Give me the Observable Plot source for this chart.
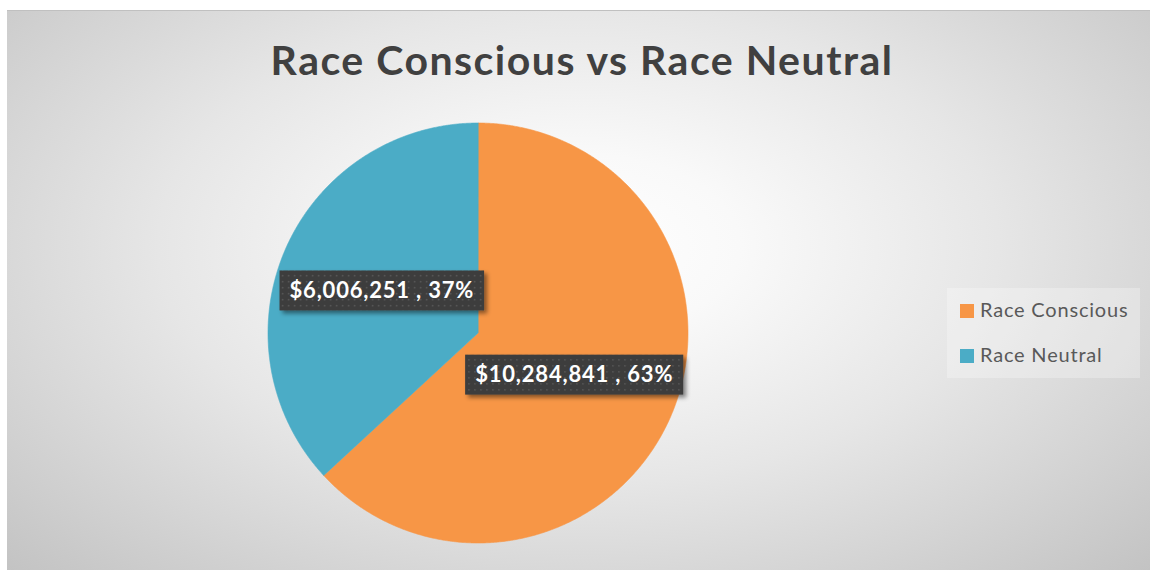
<!DOCTYPE html>
<html>
<head>
<meta charset="utf-8">
<script src="https://cdn.jsdelivr.net/npm/d3@7"></script>
<script src="https://cdn.jsdelivr.net/npm/@observablehq/plot@0.6"></script>
<style>
  html, body { margin: 0; padding: 0; background: #ffffff; width: 1150px; height: 570px; overflow: hidden; }
  #bg { position: absolute; left: 7px; top: 10px; width: 1143px; height: 560px;
        border-top: 1px solid #c0c0c0; box-sizing: border-box;
        background: radial-gradient(ellipse farthest-corner at 50% 42%, #ffffff 0%, #f9f9f9 20%, #e6e6e6 52%, #c3c3c3 100%); }
  #title { position: absolute; left: 0; top: 39px; width: 1164px; text-align: center;
           font-family: Lato, sans-serif; font-weight: 700; font-size: 41px; line-height: 41px;
           letter-spacing: 1.5px; color: #404040; white-space: nowrap; }
  #chart { position: absolute; left: 0; top: 0; }
  #legend { position: absolute; left: 947px; top: 288px; width: 193px; height: 90px;
            background: rgba(255,255,255,0.28); }
  .item { position: absolute; left: 13px; font-family: Lato, sans-serif; font-size: 20px; line-height: 20px;
          color: #595959; white-space: nowrap; letter-spacing: 0.8px; }
  .sw { display: inline-block; width: 14px; height: 14px; margin-right: 6px; vertical-align: -1px; }
</style>
</head>
<body>
<div id="bg"></div>
<div id="title">Race Conscious vs Race Neutral</div>
<div id="chart"></div>
<div id="legend"></div>
<script>
const categories = ["Race Conscious", "Race Neutral"];
const values = [10284841, 6006251];
const colors = ["#F79646", "#4BACC6"];
const chartTitle = "Race Conscious vs Race Neutral";

const cx = 477.5, cy = 332.5, R = 210;
const total = d3.sum(values);
const arcs = d3.pie().sort(null)(values);

// slice outlines in unit-circle coordinates (angle clockwise from 12 o'clock)
const slices = arcs.map((a, i) => {
  const pts = [{x: 0, y: 0}];
  const n = Math.max(2, Math.ceil((a.endAngle - a.startAngle) / 0.005));
  for (let k = 0; k <= n; k++) {
    const t = a.startAngle + (a.endAngle - a.startAngle) * k / n;
    pts.push({x: Math.sin(t), y: Math.cos(t)});
  }
  return {name: categories[i], color: colors[i], points: pts};
});

const labels = arcs.map((a, i) => {
  const m = (a.startAngle + a.endAngle) / 2;
  return {
    x: 0.5 * Math.sin(m), y: 0.5 * Math.cos(m),
    text: d3.format("$,")(values[i]) + " , " + Math.round(values[i] / total * 100) + "%"
  };
});

const plot = Plot.plot({
  width: 1150, height: 570, margin: 0,
  style: {background: "transparent", overflow: "visible"},
  x: {domain: [-1, 1], range: [cx - R, cx + R], axis: null},
  y: {domain: [-1, 1], range: [cy + R, cy - R], axis: null},
  marks: [
    ...slices.map(s => Plot.line(s.points, {x: "x", y: "y", fill: s.color, stroke: s.color, strokeWidth: 0.6, curve: "linear-closed"})),
    Plot.text(labels, {x: "x", y: "y", text: "text", fill: "white", fontSize: 22, fontWeight: 700,
      fontFamily: "Lato, sans-serif", className: "dlabel"})
  ]
});
document.getElementById("chart").appendChild(plot);

// pattern + boxes behind data labels
const svg = d3.select(plot);
const defs = svg.insert("defs", ":first-child");
const pat = defs.append("pattern").attr("id", "dots").attr("patternUnits", "userSpaceOnUse")
  .attr("width", 6).attr("height", 6);
pat.append("rect").attr("width", 6).attr("height", 6).attr("fill", "#3d3d3d");
pat.append("rect").attr("x", 2).attr("y", 2).attr("width", 1.5).attr("height", 1.5).attr("fill", "#585858");
const f = defs.append("filter").attr("id", "shadow").attr("x", "-20%").attr("y", "-30%").attr("width", "140%").attr("height", "170%");
f.append("feDropShadow").attr("dx", 3).attr("dy", 3).attr("stdDeviation", 2.2).attr("flood-color", "#000").attr("flood-opacity", 0.45);

const texts = Array.from(plot.querySelectorAll(".dlabel text"));
texts.forEach(t => {
  t.setAttribute("letter-spacing", "0.8");
  const b = t.getBBox();
  const h = 40, padX = 10;
  const ycen = b.y + b.height / 2 + 1;
  const rect = document.createElementNS("http://www.w3.org/2000/svg", "rect");
  rect.setAttribute("x", b.x - padX);
  rect.setAttribute("y", ycen - h / 2);
  rect.setAttribute("width", b.width + 2 * padX);
  rect.setAttribute("height", h);
  rect.setAttribute("fill", "url(#dots)");
  rect.setAttribute("filter", "url(#shadow)");
  const tr = t.getAttribute("transform");
  if (tr) rect.setAttribute("transform", tr);
  const g = document.createElementNS("http://www.w3.org/2000/svg", "g");
  t.parentNode.insertBefore(g, t);
  g.appendChild(rect);
  g.appendChild(t);
});

// legend
const leg = document.getElementById("legend");
categories.forEach((c, i) => {
  const d = document.createElement("div");
  d.className = "item";
  d.style.top = (i === 0 ? 10.5 : 55.5) + "px";
  d.innerHTML = `<span class="sw" style="background:${colors[i]}"></span>${c}`;
  leg.appendChild(d);
});
</script>
</body>
</html>
